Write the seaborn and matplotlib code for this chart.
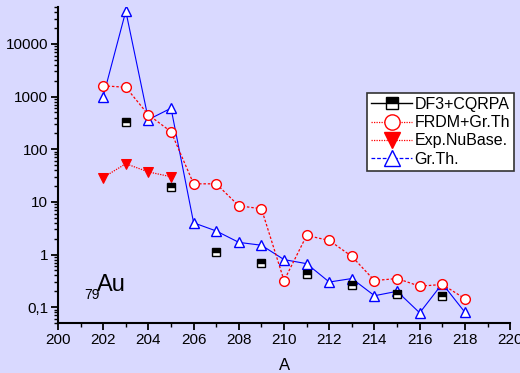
import numpy as np
import pandas as pd
import seaborn as sns
import matplotlib
matplotlib.use("Agg")
import matplotlib.pyplot as plt
from matplotlib.lines import Line2D
from matplotlib.ticker import FixedLocator, LogLocator, MultipleLocator, FuncFormatter, NullFormatter

# Half-lives versus mass number A for gold isotopes
a_df3 = [203, 205, 207, 209, 211, 213, 215, 217]
v_df3 = [326, 19, 1.1, 0.7, 0.42, 0.26, 0.18, 0.16]

a_frdm = [202, 203, 204, 205, 206, 207, 208, 209, 210, 211, 212, 213, 214, 215, 216, 217, 218]
v_frdm = [1600, 1500, 450, 215, 22, 22, 8.4, 7.4, 0.32, 2.3, 1.85, 0.92, 0.32, 0.35, 0.25, 0.27, 0.145]

a_exp = [202, 203, 204, 205]
v_exp = [29, 53, 37, 30]

a_gr = [202, 203, 204, 205, 206, 207, 208, 209, 210, 211, 212, 213, 214, 215, 216, 217, 218]
v_gr = [1000, 42000, 365, 600, 4.0, 2.8, 1.7, 1.5, 0.8, 0.67, 0.3, 0.35, 0.165, 0.2, 0.078, 0.28, 0.08]

labels = ["DF3+CQRPA", "FRDM+Gr.Th", "Exp.NuBase.", "Gr.Th."]
y_ticks = [0.1, 1, 10, 100, 1000, 10000]

bg = "#D9D9FF"
font = "Liberation Sans"
plt.rcParams["font.family"] = [font, "DejaVu Sans"]

fig = plt.figure(figsize=(5.2, 3.73), dpi=100, facecolor=bg)
ax = fig.add_axes([0.1115, 0.134, 0.8695, 0.847])
ax.set_facecolor(bg)

df_gr = pd.DataFrame({"A": a_gr, "T": v_gr})
df_frdm = pd.DataFrame({"A": a_frdm, "T": v_frdm})
df_exp = pd.DataFrame({"A": a_exp, "T": v_exp})
df_df3 = pd.DataFrame({"A": a_df3, "T": v_df3})

sns.lineplot(data=df_gr, x="A", y="T", ax=ax, color="#0000FF", linewidth=0.8,
             marker="^", markersize=7.5, markerfacecolor="white",
             markeredgecolor="#0000FF", markeredgewidth=1.0, zorder=3)
sns.lineplot(data=df_frdm, x="A", y="T", ax=ax, color="#FF0000", linewidth=0.9,
             linestyle=(0, (2, 1.5)), marker="o", markersize=7,
             markerfacecolor="white", markeredgecolor="#FF0000",
             markeredgewidth=1.0, zorder=4)
sns.lineplot(data=df_exp, x="A", y="T", ax=ax, color="#FF0000", linewidth=0.9,
             linestyle=(0, (1, 1)), marker="v", markersize=7.5,
             markerfacecolor="#FF0000", markeredgecolor="#FF0000", zorder=5)
sns.lineplot(data=df_df3, x="A", y="T", ax=ax, color="black", linestyle="none",
             marker="s", markersize=6, fillstyle="top", markerfacecolor="black",
             markerfacecoloralt="white", markeredgecolor="black",
             markeredgewidth=1.0, zorder=6)

ax.set_yscale("log")
ax.set_xlim(200, 220)
ax.set_ylim(0.05, 50000)

ax.xaxis.set_major_locator(MultipleLocator(2))
ax.xaxis.set_minor_locator(MultipleLocator(1))
ax.yaxis.set_major_locator(FixedLocator(y_ticks))
ax.yaxis.set_minor_locator(LogLocator(base=10, subs=np.arange(2, 10)))
ax.yaxis.set_minor_formatter(NullFormatter())
ax.yaxis.set_major_formatter(FuncFormatter(
    lambda v, p: ("%g" % v).replace(".", ",")))

for s in ["top", "right"]:
    ax.spines[s].set_visible(False)
for s in ["left", "bottom"]:
    ax.spines[s].set_linewidth(1.5)
    ax.spines[s].set_color("black")

ax.tick_params(which="major", direction="out", length=5, width=1.3,
               labelsize=11, colors="black", pad=2)
ax.tick_params(which="minor", direction="out", length=3, width=1.0)
ax.set_xlabel("A", fontsize=12, labelpad=8)
ax.set_ylabel("")

# Element label: atomic number as a left subscript
ax.text(201.15, 0.14, "79", fontsize=10, ha="left", va="baseline")
ax.text(201.73, 0.2, "Au", fontsize=17, ha="left", va="baseline")

handles = [
    Line2D([], [], color="black", linewidth=1.0, marker="s", markersize=9,
           fillstyle="top", markerfacecolor="black", markerfacecoloralt="white",
           markeredgecolor="black"),
    Line2D([], [], color="#FF0000", linewidth=0.9, linestyle=(0, (1, 1)),
           marker="o", markersize=11, markerfacecolor="white",
           markeredgecolor="#FF0000"),
    Line2D([], [], color="#FF0000", linewidth=0.9, linestyle=(0, (1, 1)),
           marker="v", markersize=12, markerfacecolor="#FF0000",
           markeredgecolor="#FF0000"),
    Line2D([], [], color="#0000FF", linewidth=0.9, linestyle=(0, (3, 1.5)),
           marker="^", markersize=12, markerfacecolor="white",
           markeredgecolor="#0000FF"),
]
leg = ax.legend(handles, labels, loc="upper left", bbox_to_anchor=(0.683, 0.728),
                fontsize=11.5, frameon=True, fancybox=False, framealpha=1,
                edgecolor="#333333", facecolor="white", handlelength=2.6,
                handletextpad=0.15, labelspacing=0.2, borderpad=0.25,
                borderaxespad=0)
leg.get_frame().set_linewidth(1.2)

fig.savefig("out.png", dpi=100, facecolor=bg)
